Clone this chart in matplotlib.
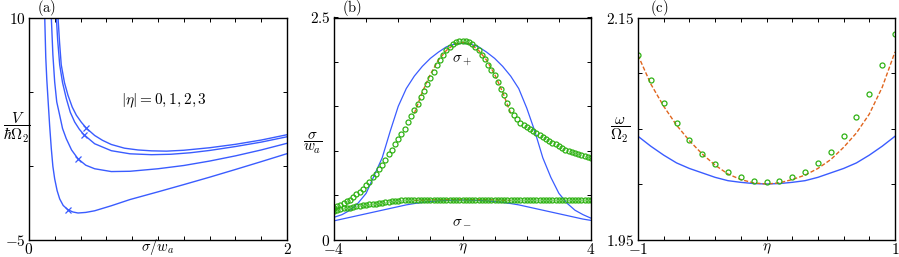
import numpy as np
import matplotlib
matplotlib.use("Agg")
import matplotlib.pyplot as plt

plt.rcParams["mathtext.fontset"] = "cm"
plt.rcParams["font.family"] = "serif"
plt.rcParams["font.serif"] = ["DejaVu Serif"]
plt.rcParams["font.size"] = 9

blue = "#3a5cff"
green = "#2fb214"
orange = "#e0651e"

# ---- panel (a): potential curves, |eta| = 0,1,2,3
s1 = [0.225, 0.237, 0.25, 0.275, 0.302, 0.335, 0.367, 0.405, 0.444, 0.509, 0.57, 0.638,
      0.74, 0.845, 0.95, 1.066, 1.2, 1.4, 1.6, 1.8, 2.0]
v1 = [10, 8.3, 6.8, 5.6, 4.75, 3.95, 3.4, 2.93, 2.53, 2.03, 1.7, 1.42,
      1.17, 1.05, 0.99, 0.97, 1.03, 1.2, 1.43, 1.72, 2.08]
s2 = [0.212, 0.222, 0.238, 0.26, 0.289, 0.32, 0.354, 0.39, 0.426, 0.509, 0.638, 0.783,
      0.95, 1.1, 1.25, 1.403, 1.6, 1.8, 2.0]
v2 = [10, 8.5, 6.8, 5.6, 4.53, 3.6, 2.94, 2.45, 2.08, 1.47, 1.0, 0.79,
      0.73, 0.76, 0.86, 1.02, 1.28, 1.58, 1.94]
s3 = [0.173, 0.185, 0.199, 0.215, 0.238, 0.26, 0.289, 0.33, 0.38, 0.44, 0.509, 0.638,
      0.783, 1.0, 1.2, 1.4, 1.6, 1.8, 2.0]
v3 = [10, 7.5, 5.65, 4.3, 3.39, 2.5, 1.81, 1.05, 0.45, 0.02, -0.22, -0.41,
      -0.39, -0.22, 0.0, 0.3, 0.65, 1.05, 1.5]
s4 = [0.122, 0.13, 0.138, 0.147, 0.16, 0.173, 0.185, 0.199, 0.218, 0.238, 0.265, 0.302,
      0.34, 0.38, 0.44, 0.509, 0.638, 0.783, 1.0, 1.2, 1.4, 1.6, 1.8, 2.0]
v4 = [10, 7.3, 5.8, 4.53, 2.7, 1.13, -0.05, -0.9, -1.7, -2.26, -2.7, -2.99,
      -3.14, -3.21, -3.17, -3.06, -2.72, -2.3, -1.78, -1.29, -0.79, -0.27, 0.26, 0.8]
mark_s = [0.444, 0.426, 0.38, 0.302]
mark_v = [2.53, 2.08, 0.45, -2.99]

# ---- panel (b): widths sigma_+ and sigma_- vs eta
eta_b = np.round(np.arange(-4, 4.01, 0.1), 2)
sp_pts = [0.36, 0.38, 0.39, 0.41, 0.43, 0.45, 0.48, 0.51, 0.54, 0.57,
          0.61, 0.65, 0.70, 0.74, 0.79, 0.84, 0.90, 0.96, 1.01, 1.07,
          1.13, 1.19, 1.25, 1.32, 1.39, 1.46, 1.53, 1.60, 1.67, 1.75,
          1.82, 1.89, 1.96, 2.02, 2.08, 2.13, 2.17, 2.20, 2.22, 2.23,
          2.23,
          2.23, 2.22, 2.20, 2.17, 2.13, 2.08, 2.03, 1.97, 1.91, 1.85,
          1.77, 1.70, 1.63, 1.54, 1.46, 1.40, 1.36, 1.31, 1.29, 1.27,
          1.24, 1.22, 1.20, 1.18, 1.15, 1.13, 1.11, 1.09, 1.07, 1.05,
          1.03, 1.01, 1.00, 0.99, 0.97, 0.96, 0.95, 0.94, 0.93, 0.92]
sm_pts = [0.32, 0.33, 0.34, 0.35, 0.355, 0.36, 0.37, 0.375, 0.38, 0.385,
          0.39, 0.395, 0.40, 0.405, 0.41, 0.415, 0.42, 0.425, 0.43, 0.43,
          0.435, 0.44, 0.44, 0.44, 0.445, 0.445, 0.445, 0.448, 0.448, 0.45,
          0.45, 0.45, 0.45, 0.45, 0.45, 0.45, 0.45, 0.45, 0.45, 0.45,
          0.45,
          0.45, 0.45, 0.45, 0.45, 0.45, 0.45, 0.45, 0.45, 0.45, 0.45,
          0.45, 0.45, 0.448, 0.448, 0.448, 0.447, 0.447, 0.446, 0.446, 0.445,
          0.445, 0.445, 0.444, 0.444, 0.443, 0.443, 0.443, 0.442, 0.442, 0.442,
          0.441, 0.441, 0.441, 0.44, 0.44, 0.44, 0.44, 0.44, 0.44, 0.44]
eta_line = [-4, -3.75, -3.5, -3.25, -3, -2.75, -2.5, -2.25, -2, -1.75, -1.5, -1.25, -1,
            -0.75, -0.5, -0.25, 0, 0.25, 0.5, 0.75, 1, 1.25, 1.5, 1.75, 2, 2.25, 2.5,
            2.75, 3, 3.25, 3.5, 3.75, 4]
sp_blue = [0.25, 0.28, 0.33, 0.41, 0.52, 0.72, 0.92, 1.22, 1.50, 1.70, 1.84, 1.95, 2.04,
           2.11, 2.17, 2.20, 2.21, 2.20, 2.17, 2.11, 2.04, 1.95, 1.84, 1.70, 1.48, 1.22, 0.92,
           0.70, 0.52, 0.41, 0.33, 0.28, 0.24]
sm_blue = [0.21, 0.23, 0.25, 0.27, 0.29, 0.31, 0.33, 0.35, 0.37, 0.39, 0.405, 0.417, 0.427,
           0.435, 0.44, 0.443, 0.445, 0.443, 0.44, 0.435, 0.427, 0.417, 0.405, 0.39, 0.37,
           0.35, 0.33, 0.31, 0.29, 0.27, 0.25, 0.23, 0.215]
eta_or = [-1.5, -1.25, -1, -0.75, -0.5, -0.25, 0, 0.25, 0.5, 0.75, 1, 1.25, 1.5]
sp_or = [1.42, 1.66, 1.86, 2.02, 2.13, 2.20, 2.22, 2.20, 2.13, 2.02, 1.86, 1.66, 1.42]
sm_or = [0.44, 0.443, 0.446, 0.448, 0.449, 0.45, 0.45, 0.45, 0.449, 0.448, 0.446, 0.443, 0.44]

# ---- panel (c): frequency vs eta
eta_c = np.round(np.arange(-1, 1.01, 0.1), 2)
w_pts = [2.116, 2.094, 2.073, 2.055, 2.040, 2.027, 2.018, 2.011, 2.006, 2.003, 2.002,
         2.003, 2.006, 2.011, 2.019, 2.029, 2.043, 2.060, 2.081, 2.107, 2.135]
w_blue = [2.043, 2.034, 2.026, 2.019, 2.014, 2.010, 2.006, 2.003, 2.0015, 2.0004, 2.000,
          2.0004, 2.0015, 2.003, 2.006, 2.010, 2.014, 2.019, 2.026, 2.034, 2.043]
w_or = [2.116, 2.090, 2.070, 2.053, 2.039, 2.027, 2.017, 2.009, 2.004, 2.001, 2.000,
        2.001, 2.004, 2.008, 2.014, 2.022, 2.033, 2.046, 2.063, 2.087, 2.119]

W, H = 899, 257
fig = plt.figure(figsize=(W / 100, H / 100), dpi=100)

def make_ax(x0, x1, y0=17.5, y1=239.5):
    return fig.add_axes([x0 / W, 1 - y1 / H, (x1 - x0) / W, (y1 - y0) / H])

def style(ax, xt, yt, xl, yl):
    ax.set_xticks(xt)
    ax.set_yticks(yt)
    ax.set_xticklabels([xl[0]] + [""] * (len(xt) - 2) + [xl[1]])
    ax.set_yticklabels([yl[0]] + [""] * (len(yt) - 2) + [yl[1]])
    ax.tick_params(direction="in", top=True, right=True, length=3, width=0.7,
                   labelsize=11)
    ax.tick_params(axis="x", pad=1.5)
    ax.tick_params(axis="y", pad=2.5)
    for sp in ax.spines.values():
        sp.set_linewidth(1.0)

ms = dict(marker="o", ls="none", ms=3.6, mfc="none", mec=green, mew=0.9)

# (a)
ax = make_ax(29, 287)
for s, v in [(s1, v1), (s2, v2), (s3, v3), (s4, v4)]:
    ax.plot(s, v, color=blue, lw=1.0)
ax.plot(mark_s, mark_v, "x", color=blue, ms=4, mew=0.9)
ax.set_xlim(0, 2)
ax.set_ylim(-5, 10)
style(ax, np.linspace(0, 2, 11), [-5, 0, 5, 10], ["$0$", "$2$"], ["$-5$", "$10$"])
ax.text(1.05, 4.4, r"$|\eta| = 0, 1, 2, 3$", ha="center", va="center", fontsize=11)
ax.text(0.5, -0.05, r"$\sigma/w_a$", transform=ax.transAxes, ha="center", va="baseline",
        fontsize=10.5)
fig.text(17 / W, 1 - 128 / H, r"$\dfrac{V}{\hbar\Omega_2}$", ha="center", va="center", fontsize=11)
fig.text(47 / W, 1 - 8.5 / H, r"$\mathrm{(a)}$", ha="center", va="center", fontsize=10.5)

# (b)
ax = make_ax(334, 591)
ax.plot(eta_line, sp_blue, color=blue, lw=0.9)
ax.plot(eta_line, sm_blue, color=blue, lw=0.9)
ax.plot(eta_or, sp_or, color=orange, lw=1.0, dashes=(3, 1.5))
ax.plot(eta_or, sm_or, color=orange, lw=1.0, dashes=(3, 1.5))
ax.plot(eta_b, sp_pts, **ms)
ax.plot(eta_b, sm_pts, **ms)
ax.set_xlim(-4, 4)
ax.set_ylim(0, 2.5)
style(ax, np.arange(-4, 5, 1), np.linspace(0, 2.5, 6), ["$-4$", "$4$"], ["$0$", "$2.5$"])
ax.text(0, 2.01, r"$\sigma_+$", ha="center", va="center", fontsize=11)
ax.text(0, 0.21, r"$\sigma_-$", ha="center", va="center", fontsize=11)
ax.text(0.5, -0.008, r"$\eta$", transform=ax.transAxes, ha="center", va="top", fontsize=11)
fig.text(313 / W, 1 - 143 / H, r"$\dfrac{\sigma}{w_a}$", ha="center", va="center", fontsize=11)
fig.text(352 / W, 1 - 8.5 / H, r"$\mathrm{(b)}$", ha="center", va="center", fontsize=10.5)

# (c)
ax = make_ax(638, 895)
ax.plot(eta_c, w_blue, color=blue, lw=1.0)
ax.plot(eta_c, w_or, color=orange, lw=1.0, dashes=(3, 1.5))
ax.plot(eta_c, w_pts, **ms)
ax.set_xlim(-1, 1)
ax.set_ylim(1.95, 2.15)
style(ax, np.linspace(-1, 1, 11), np.linspace(1.95, 2.15, 5), ["$-1$", "$1$"], ["$1.95$", "$2.15$"])
ax.text(0.5, -0.008, r"$\eta$", transform=ax.transAxes, ha="center", va="top", fontsize=11)
fig.text(620 / W, 1 - 130 / H, r"$\dfrac{\omega}{\Omega_2}$", ha="center", va="center", fontsize=11)
fig.text(659 / W, 1 - 8.5 / H, r"$\mathrm{(c)}$", ha="center", va="center", fontsize=10.5)

fig.savefig("out.png", dpi=100)
